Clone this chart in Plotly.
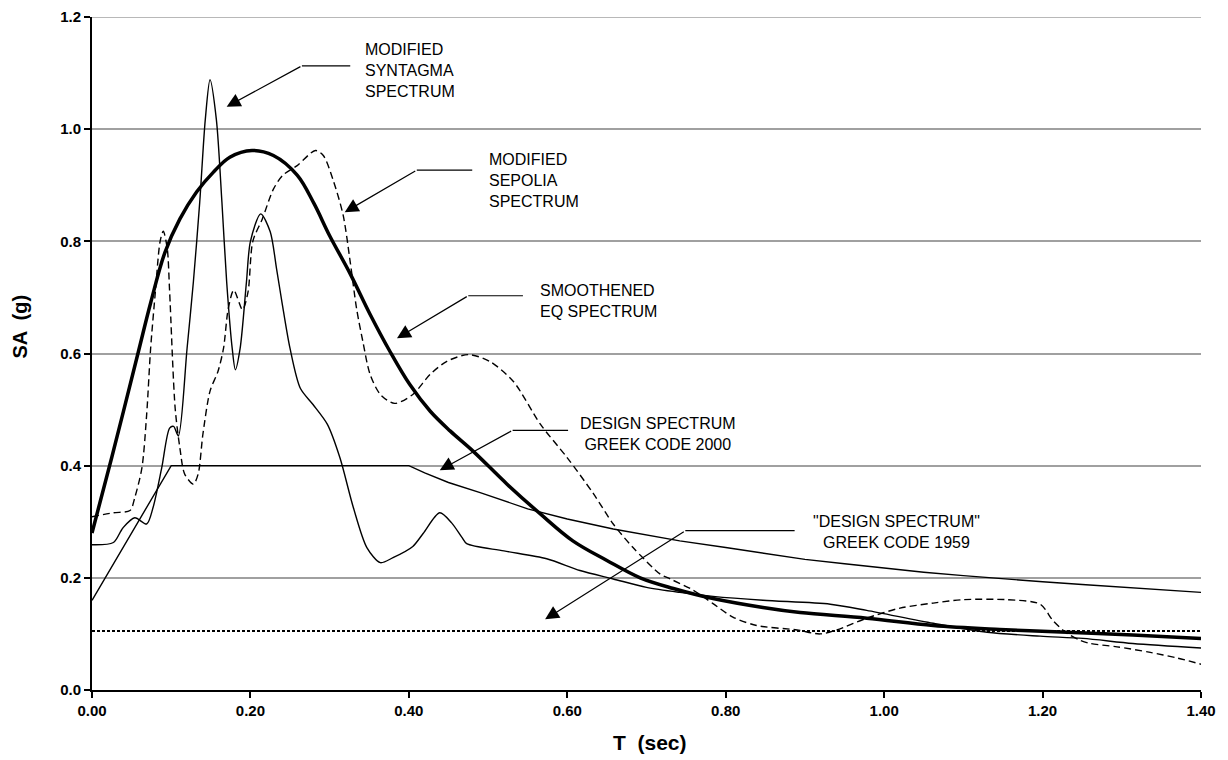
import plotly.graph_objects as go

# ---------------- data ----------------
t_syntagma = [0, 0.027, 0.039, 0.054, 0.069, 0.077, 0.088, 0.098, 0.103, 0.109, 0.12, 0.128,
              0.136, 0.143, 0.149, 0.157, 0.164, 0.17, 0.177, 0.181, 0.187, 0.195, 0.2, 0.213,
              0.225, 0.233, 0.24, 0.25, 0.263, 0.279, 0.297, 0.313, 0.33, 0.347, 0.364, 0.38,
              0.405, 0.418, 0.439, 0.454, 0.467, 0.473, 0.52, 0.574, 0.616, 0.658, 0.70, 0.742,
              0.784, 0.847, 0.932, 0.978, 1.062, 1.13, 1.197, 1.251, 1.314, 1.40]
sa_syntagma = [0.259, 0.263, 0.289, 0.307, 0.296, 0.325, 0.396, 0.467, 0.47, 0.453, 0.609, 0.728,
               0.87, 1.017, 1.088, 1.017, 0.87, 0.728, 0.609, 0.571, 0.609, 0.728, 0.80, 0.849,
               0.817, 0.751, 0.69, 0.609, 0.538, 0.509, 0.474, 0.414, 0.325, 0.254, 0.227, 0.236,
               0.256, 0.279, 0.316, 0.298, 0.272, 0.261, 0.248, 0.234, 0.213, 0.198, 0.183, 0.174,
               0.167, 0.16, 0.153, 0.142, 0.119, 0.103, 0.096, 0.092, 0.083, 0.075]

t_sepolia = [0, 0.027, 0.048, 0.054, 0.063, 0.069, 0.074, 0.08, 0.086, 0.09, 0.095, 0.098,
             0.105, 0.111, 0.117, 0.128, 0.134, 0.14, 0.149, 0.159, 0.166, 0.172, 0.179, 0.19,
             0.197, 0.203, 0.215, 0.229, 0.241, 0.259, 0.282, 0.292, 0.304, 0.317, 0.326, 0.334,
             0.342, 0.351, 0.364, 0.382, 0.405, 0.427, 0.448, 0.475, 0.502, 0.532, 0.566, 0.60,
             0.633, 0.658, 0.683, 0.717, 0.73, 0.759, 0.784, 0.809, 0.839, 0.89, 0.919, 0.94,
             0.978, 1.02, 1.062, 1.10, 1.155, 1.197, 1.213, 1.231, 1.247, 1.26, 1.294, 1.336,
             1.37, 1.40]
sa_sepolia = [0.309, 0.316, 0.32, 0.343, 0.396, 0.491, 0.609, 0.71, 0.80, 0.818, 0.787, 0.71,
              0.502, 0.431, 0.385, 0.367, 0.385, 0.456, 0.533, 0.568, 0.609, 0.68, 0.713, 0.678,
              0.71, 0.80, 0.84, 0.893, 0.918, 0.935, 0.962, 0.953, 0.911, 0.847, 0.763, 0.68,
              0.621, 0.563, 0.527, 0.511, 0.527, 0.563, 0.586, 0.598, 0.586, 0.55, 0.474, 0.414,
              0.35, 0.296, 0.254, 0.207, 0.198, 0.178, 0.154, 0.13, 0.115, 0.107, 0.10, 0.107,
              0.128, 0.146, 0.155, 0.161, 0.161, 0.153, 0.124, 0.101, 0.089, 0.083, 0.077, 0.067,
              0.057, 0.046]

t_smooth = [0, 0.025, 0.058, 0.074, 0.092, 0.111, 0.132, 0.153, 0.174, 0.202, 0.229, 0.259,
            0.28, 0.30, 0.326, 0.351, 0.376, 0.401, 0.427, 0.452, 0.481, 0.524, 0.566, 0.607,
            0.65, 0.692, 0.734, 0.784, 0.847, 0.894, 0.978, 1.062, 1.146, 1.231, 1.314, 1.40]
sa_smooth = [0.28, 0.415, 0.60, 0.69, 0.78, 0.84, 0.888, 0.923, 0.95, 0.962, 0.953, 0.918,
             0.868, 0.81, 0.742, 0.67, 0.604, 0.545, 0.497, 0.462, 0.426, 0.367, 0.314, 0.266,
             0.231, 0.20, 0.181, 0.163, 0.147, 0.138, 0.128, 0.115, 0.108, 0.103, 0.098, 0.092]

t_code2000 = [0, 0.10, 0.40, 0.42, 0.45, 0.49, 0.55, 0.60, 0.658, 0.70, 0.742, 0.80, 0.85,
              0.90, 0.95, 1.0, 1.05, 1.1, 1.15, 1.2, 1.25, 1.3, 1.35, 1.40]
sa_code2000 = [0.16, 0.40, 0.40, 0.387, 0.37, 0.352, 0.323, 0.305, 0.287, 0.276, 0.266, 0.254,
               0.244, 0.233, 0.225, 0.217, 0.210, 0.204, 0.198, 0.193, 0.188, 0.183, 0.178, 0.174]

t_code1959 = [0, 1.40]
sa_code1959 = [0.105, 0.105]

x_ticks = [0, 0.2, 0.4, 0.6, 0.8, 1.0, 1.2, 1.4]
x_ticklabels = ["0.00", "0.20", "0.40", "0.60", "0.80", "1.00", "1.20", "1.40"]
y_ticks = [0, 0.2, 0.4, 0.6, 0.8, 1.0, 1.2]
y_ticklabels = ["0.0", "0.2", "0.4", "0.6", "0.8", "1.0", "1.2"]

# callouts: text, text anchor (T, SA), alignment, arrow tip, elbow, end of horizontal leader
callout_text = ["MODIFIED<br>SYNTAGMA<br>SPECTRUM",
                "MODIFIED<br>SEPOLIA<br>SPECTRUM",
                "SMOOTHENED<br>EQ SPECTRUM",
                "DESIGN SPECTRUM<br>GREEK CODE 2000",
                "\"DESIGN SPECTRUM\"<br>GREEK CODE 1959"]
callout_text_t = [0.342, 0.4987, 0.563, 0.715, 1.016]
callout_text_sa = [1.104, 0.909, 0.693, 0.456, 0.281]
callout_xanchor = ["left", "left", "left", "center", "center"]
callout_tip_t = [0.170, 0.319, 0.385, 0.439, 0.572]
callout_tip_sa = [1.040, 0.852, 0.627, 0.392, 0.126]
callout_elbow_t = [0.265, 0.410, 0.475, 0.531, 0.749]
callout_elbow_sa = [1.113, 0.927, 0.703, 0.463, 0.284]
callout_end_t = [0.326, 0.480, 0.544, 0.601, 0.887]

# ---------------- figure ----------------
FONT = "Liberation Sans, Arial, sans-serif"
GRID = "#a0a0a0"
fig = go.Figure()

fig.add_trace(go.Scatter(x=t_code1959, y=sa_code1959, mode="lines",
                         line=dict(color="black", width=2, dash="3px,2px"),
                         hoverinfo="skip"))
fig.add_trace(go.Scatter(x=t_code2000, y=sa_code2000, mode="lines",
                         line=dict(color="black", width=1.4),
                         hoverinfo="skip"))
fig.add_trace(go.Scatter(x=t_syntagma, y=sa_syntagma, mode="lines",
                         line=dict(color="black", width=1.4, shape="spline", smoothing=0.8),
                         hoverinfo="skip"))
fig.add_trace(go.Scatter(x=t_sepolia, y=sa_sepolia, mode="lines",
                         line=dict(color="black", width=1.4, dash="7px,4px", shape="spline",
                                   smoothing=0.8),
                         hoverinfo="skip"))
fig.add_trace(go.Scatter(x=t_smooth, y=sa_smooth, mode="lines",
                         line=dict(color="black", width=3.5, shape="spline", smoothing=1.0),
                         hoverinfo="skip"))

for i, txt in enumerate(callout_text):
    fig.add_annotation(x=callout_text_t[i], y=callout_text_sa[i], xref="x", yref="y",
                       text=txt, showarrow=False, xanchor=callout_xanchor[i], yanchor="middle",
                       align=("left" if callout_xanchor[i] == "left" else "center"),
                       font=dict(family=FONT, size=16, color="black"))
    fig.add_annotation(x=callout_tip_t[i], y=callout_tip_sa[i], xref="x", yref="y",
                       ax=callout_elbow_t[i], ay=callout_elbow_sa[i], axref="x", ayref="y",
                       text="", showarrow=True, arrowhead=2, arrowsize=2.3, arrowwidth=1.2,
                       arrowcolor="black", standoff=0)
    fig.add_shape(type="line", xref="x", yref="y",
                  x0=callout_elbow_t[i], x1=callout_end_t[i],
                  y0=callout_elbow_sa[i], y1=callout_elbow_sa[i],
                  line=dict(color="black", width=1.2))

# top gridline (plotly drops the grid line lying on the range edge)
fig.add_shape(type="line", xref="paper", yref="y", x0=0, x1=1, y0=y_ticks[-1], y1=y_ticks[-1],
              line=dict(color=GRID, width=1.5), layer="below")

# axis titles
fig.add_annotation(x=0.503, y=-0.078, xref="paper", yref="paper", text="<b>T  (sec)</b>",
                   showarrow=False, xanchor="center", yanchor="middle",
                   font=dict(family=FONT, size=21, color="black"))
fig.add_annotation(x=-0.0649, y=0.54, xref="paper", yref="paper", text="<b>SA  (g)</b>",
                   showarrow=False, textangle=-90, xanchor="center", yanchor="middle",
                   font=dict(family=FONT, size=20, color="black"))

fig.update_layout(
    width=1228, height=760,
    margin=dict(l=84, r=35, t=9, b=78),
    paper_bgcolor="white", plot_bgcolor="white",
    showlegend=False,
    font=dict(family=FONT, color="black"),
)
fig.update_xaxes(range=[0, 1.4], tickmode="array", tickvals=x_ticks, ticktext=x_ticklabels,
                 showgrid=False, zeroline=False, showline=True, linecolor="black", linewidth=2,
                 ticks="outside", ticklen=6, tickwidth=1.5, tickcolor="black", automargin=False,
                 ticklabeloverflow="allow",
                 tickfont=dict(family=FONT, size=15, color="black", weight="bold"))
fig.update_yaxes(range=[0, 1.2], tickmode="array", tickvals=y_ticks, ticktext=y_ticklabels,
                 showgrid=True, gridcolor=GRID, gridwidth=1.5, zeroline=False,
                 showline=True, linecolor="black", linewidth=2, automargin=False,
                 ticks="outside", ticklen=6, tickwidth=1.5, tickcolor="black",
                 ticklabeloverflow="allow",
                 tickfont=dict(family=FONT, size=15, color="black", weight="bold"))

fig.write_html("out.html")
